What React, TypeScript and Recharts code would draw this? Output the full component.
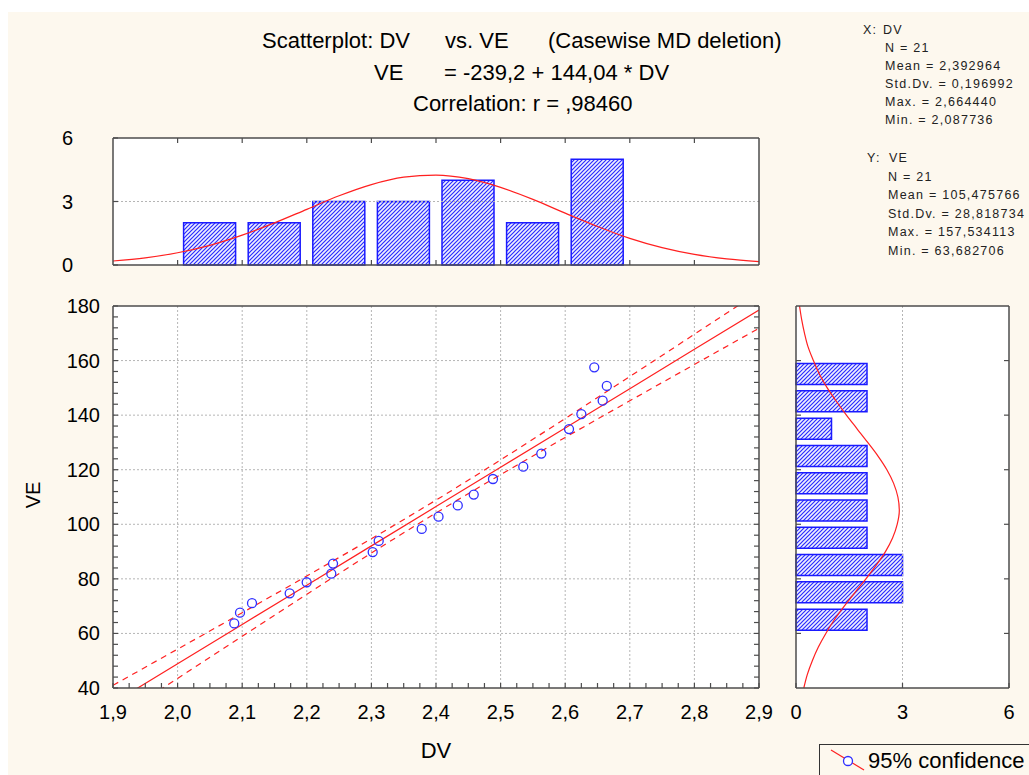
import React from 'react';
import { ComposedChart, Scatter, Line, Bar, XAxis, YAxis, ReferenceLine } from 'recharts';

const dvValues = [2.0877, 2.0966, 2.1152, 2.1735, 2.1998, 2.2379, 2.2406, 2.302, 2.3113, 2.3779, 2.4039,
  2.4337, 2.4584, 2.4882, 2.5351, 2.563, 2.6059, 2.625, 2.645, 2.658, 2.6644];
const veValues = [63.68, 67.6, 71.1, 74.7, 78.75, 81.9, 85.6, 89.8, 93.9, 98.3, 102.8,
  106.9, 110.9, 116.6, 121.1, 125.9, 134.9, 140.4, 157.53, 145.3, 150.7];

// regression VE = -239,2 + 144,04 * DV, and 95% band
const fitIntercept = -239.2;
const fitSlope = 144.04;
const bandX = [1.9, 2.0, 2.1, 2.2, 2.3, 2.4, 2.5, 2.6, 2.7, 2.8, 2.9];
const bandUpper = [40.98, 54.25, 67.58, 81.04, 94.71, 108.86, 123.6, 138.77, 154.16, 169.64, 185.18];
const bandLower = [27.98, 43.51, 58.98, 74.34, 89.47, 104.14, 118.2, 131.83, 145.26, 158.58, 171.86];

// histograms
const dvBins = [2.05, 2.15, 2.25, 2.35, 2.45, 2.55, 2.65];
const dvCounts = [2, 2, 3, 3, 4, 2, 5];
const veBins = [65, 75, 85, 95, 105, 115, 125, 135, 145, 155];
const veCounts = [2, 3, 3, 2, 2, 2, 2, 1, 2, 2];

// normal curves over the histograms
const dvCurveX = [1.9, 1.95, 2.0, 2.05, 2.1, 2.15, 2.2, 2.25, 2.3, 2.35, 2.4, 2.45, 2.5, 2.55, 2.6, 2.65, 2.7, 2.75, 2.8, 2.85, 2.9];
const dvCurveY = [0.19, 0.34, 0.58, 0.93, 1.41, 1.99, 2.63, 3.27, 3.8, 4.15, 4.25, 4.08, 3.67, 3.1, 2.45, 1.82, 1.26, 0.82, 0.5, 0.29, 0.16];
const veCurveY = [40, 45, 50, 55, 60, 65, 70, 75, 80, 85, 90, 95, 100, 105, 110, 115, 120, 125, 130, 135, 140, 145, 150, 155, 160, 165, 170, 175, 180];
const veCurveX = [0.22, 0.32, 0.46, 0.63, 0.84, 1.08, 1.36, 1.66, 1.97, 2.26, 2.52, 2.72, 2.85, 2.91, 2.87, 2.75, 2.56, 2.31, 2.02, 1.72, 1.42, 1.14, 0.88, 0.66, 0.49, 0.34, 0.24, 0.16, 0.1];

// ticks
const xMajor = [2.0, 2.1, 2.2, 2.3, 2.4, 2.5, 2.6, 2.7, 2.8];
const xMinor = Array.from({ length: 41 }, (_, i) => +(1.9 + i * 0.025).toFixed(3));
const yMajor = [60, 80, 100, 120, 140, 160];
const yMinor = Array.from({ length: 36 }, (_, i) => 40 + i * 4);
const countTicks = [0, 3, 6];

const scatterData = dvValues.map((x, i) => ({ x, y: veValues[i] }));
const bandData = bandX.map((x, i) => ({ x, fit: fitIntercept + fitSlope * x, upper: bandUpper[i], lower: bandLower[i] }));
const dvHist = dvBins.map((dv, i) => ({ dv, count: dvCounts[i] }));
const dvCurve = dvCurveX.map((dv, i) => ({ dv, dens: dvCurveY[i] }));
const veHist = veBins.map((ve, i) => ({ ve, count: veCounts[i] }));
const veCurve = veCurveY.map((ve, i) => ({ ve, dens: veCurveX[i] }));

const FONT = '"Liberation Sans", Arial, sans-serif';
const BG = '#fdf8ee';
const FRAME = '#4d4d4d';
const GRID = '#b5b5b5';
const RED = '#ff2020';
const BLUE = '#2f2fff';
const TICK = 5;

const isMajor = (v: number, step: number) => Math.abs(v / step - Math.round(v / step)) < 1e-6;
const comma = (v: number) => v.toFixed(1).replace('.', ',');

function makeTick(side: 'top' | 'bottom' | 'left' | 'right', label?: (v: number) => string | null, gap = 0) {
  return (props: any) => {
    const { x, y, payload } = props;
    const v = payload.value as number;
    const text = label ? label(v) : null;
    let x2 = x, y2 = y, tx = x, ty = y;
    let anchor = 'middle';
    if (side === 'bottom') { y2 = y - TICK; ty = y + gap; }
    if (side === 'top') { y2 = y + TICK; }
    if (side === 'left') { x2 = x + TICK; tx = x - gap; ty = y + 7; anchor = 'end'; }
    if (side === 'right') { x2 = x - TICK; }
    return (
      <g>
        <line x1={x} y1={y} x2={x2} y2={y2} stroke={FRAME} strokeWidth={1.2} />
        {text !== null && (
          <text x={tx} y={ty} textAnchor={anchor} fontSize={20} fontFamily={FONT} fill="#000">{text}</text>
        )}
      </g>
    );
  };
}

const axisLine = { stroke: FRAME, strokeWidth: 1.5 };
const mainBottomTick = makeTick('bottom', (v) => (isMajor(v, 0.1) ? comma(v) : null), 31);
const mainLeftTick = makeTick('left', (v) => (isMajor(v, 20) ? String(v) : null), 13);
const topTick = makeTick('top');
const rightTick = makeTick('right');
const bottomTick = makeTick('bottom');
const leftTick = makeTick('left');
const histLeftTick = makeTick('left', (v) => String(v), 40);
const histBottomTick = makeTick('bottom', (v) => String(v), 31);

const barStyle = { fill: 'url(#hatchBlue)', stroke: '#1a1aff', strokeWidth: 1.5 };

export default function App() {
  return (
    <div style={{ position: 'absolute', left: 8, top: 12, width: 1021, height: 763, background: BG, overflow: 'hidden', fontFamily: FONT }}>
      <svg width={4} height={4} style={{ position: 'absolute', left: 0, top: 0 }}>
        <defs>
          <pattern id="hatchBlue" patternUnits="userSpaceOnUse" width={4} height={4}>
            <rect x={0} y={0} width={4} height={4} fill="#eef0ff" />
            <path d="M-1,1 L1,-1 M0,4 L4,0 M3,5 L5,3" stroke="#2b2bff" strokeWidth={1.2} fill="none" />
          </pattern>
        </defs>
      </svg>

      {/* plot backgrounds */}
      <div style={{ position: 'absolute', left: 105, top: 294, width: 646, height: 382, background: '#fff' }} />
      <div style={{ position: 'absolute', left: 105, top: 126, width: 646, height: 127, background: '#fff' }} />
      <div style={{ position: 'absolute', left: 788, top: 294, width: 213, height: 382, background: '#fff' }} />

      {/* main scatter */}
      <div style={{ position: 'absolute', left: 0, top: 280 }}>
        <ComposedChart width={770} height={480} margin={{ top: 13, right: 18, bottom: 44, left: 45 }}>
          <XAxis type="number" dataKey="x" domain={[1.9, 2.9]} allowDataOverflow ticks={xMinor} interval={0}
            tickSize={0} tickMargin={0} tickLine={false} tick={mainBottomTick} axisLine={axisLine} height={40} />
          <XAxis xAxisId="t" orientation="top" type="number" domain={[1.9, 2.9]} allowDataOverflow ticks={xMinor} interval={0}
            tickSize={0} tickMargin={0} tickLine={false} tick={topTick} axisLine={axisLine} height={1} />
          <YAxis type="number" dataKey="y" domain={[40, 180]} allowDataOverflow ticks={yMinor} interval={0}
            tickSize={0} tickMargin={0} tickLine={false} tick={mainLeftTick} axisLine={axisLine} width={60} />
          <YAxis yAxisId="r" orientation="right" type="number" domain={[40, 180]} allowDataOverflow ticks={yMinor} interval={0}
            tickSize={0} tickMargin={0} tickLine={false} tick={rightTick} axisLine={axisLine} width={1} />
          {xMajor.map((v) => (
            <ReferenceLine key={'gx' + v} x={v} stroke={GRID} strokeDasharray="2 2" />
          ))}
          {yMajor.map((v) => (
            <ReferenceLine key={'gy' + v} y={v} stroke={GRID} strokeDasharray="2 2" />
          ))}
          <Line data={bandData} dataKey="upper" type="monotone" stroke={RED} strokeWidth={1.2} strokeDasharray="6 5" dot={false} isAnimationActive={false} />
          <Line data={bandData} dataKey="lower" type="monotone" stroke={RED} strokeWidth={1.2} strokeDasharray="6 5" dot={false} isAnimationActive={false} />
          <Line data={bandData} dataKey="fit" type="linear" stroke={RED} strokeWidth={1.2} dot={false} isAnimationActive={false} />
          <Scatter data={scatterData} isAnimationActive={false}
            shape={(p: any) => <circle cx={p.cx} cy={p.cy} r={4.5} fill="none" stroke={BLUE} strokeWidth={1.3} />} />
        </ComposedChart>
      </div>

      {/* DV histogram */}
      <div style={{ position: 'absolute', left: 0, top: 110 }}>
        <ComposedChart width={770} height={160} data={dvHist} margin={{ top: 15, right: 18, bottom: 16, left: 45 }}>
          <XAxis type="number" dataKey="dv" domain={[1.9, 2.9]} ticks={xMajor} interval={0}
            tickSize={0} tickMargin={0} tickLine={false} tick={bottomTick} axisLine={axisLine} height={1} />
          <XAxis xAxisId="t" orientation="top" type="number" dataKey="dv" domain={[1.9, 2.9]} ticks={xMajor} interval={0}
            tickSize={0} tickMargin={0} tickLine={false} tick={topTick} axisLine={axisLine} height={1} />
          <YAxis type="number" domain={[0, 6]} ticks={countTicks} interval={0}
            tickSize={0} tickMargin={0} tickLine={false} tick={histLeftTick} axisLine={axisLine} width={60} />
          <YAxis yAxisId="r" orientation="right" type="number" domain={[0, 6]} ticks={countTicks} interval={0}
            tickSize={0} tickMargin={0} tickLine={false} tick={rightTick} axisLine={axisLine} width={1} />
          <ReferenceLine y={3} stroke={GRID} strokeDasharray="2 2" />
          <Bar dataKey="count" barSize={52} {...barStyle} isAnimationActive={false} />
          <Line data={dvCurve} xAxisId="t" dataKey="dens" type="monotone" stroke={RED} strokeWidth={1.2} dot={false} isAnimationActive={false} />
        </ComposedChart>
      </div>

      {/* VE histogram */}
      <div style={{ position: 'absolute', left: 740, top: 280 }}>
        <ComposedChart layout="vertical" width={281} height={480} data={veHist} margin={{ top: 13, right: 19, bottom: 44, left: 47 }}>
          <XAxis type="number" domain={[0, 6]} ticks={countTicks} interval={0}
            tickSize={0} tickMargin={0} tickLine={false} tick={histBottomTick} axisLine={axisLine} height={40} />
          <XAxis xAxisId="t" orientation="top" type="number" domain={[0, 6]} ticks={[3]} interval={0}
            tickSize={0} tickMargin={0} tickLine={false} tick={topTick} axisLine={axisLine} height={1} />
          <YAxis type="number" dataKey="ve" domain={[40, 180]} reversed ticks={yMajor} interval={0}
            tickSize={0} tickMargin={0} tickLine={false} tick={leftTick} axisLine={axisLine} width={1} />
          <YAxis yAxisId="r" orientation="right" type="number" dataKey="ve" domain={[40, 180]} reversed ticks={yMajor} interval={0}
            tickSize={0} tickMargin={0} tickLine={false} tick={rightTick} axisLine={axisLine} width={1} />
          <ReferenceLine x={3} stroke={GRID} strokeDasharray="2 2" />
          <Bar dataKey="count" barSize={21} {...barStyle} isAnimationActive={false} />
          <Line data={veCurve} yAxisId="r" dataKey="dens" type="monotone" stroke={RED} strokeWidth={1.2} dot={false} isAnimationActive={false} />
        </ComposedChart>
      </div>

      {/* titles, stats, legend */}
      <svg width={1021} height={763} style={{ position: 'absolute', left: 0, top: 0, pointerEvents: 'none' }} fontFamily={FONT}>
        <g fontSize={22} fill="#000">
          <text x={254} y={36}>Scatterplot: DV</text>
          <text x={437} y={36}>vs. VE</text>
          <text x={540} y={36}>(Casewise MD deletion)</text>
          <text x={366} y={68}>VE</text>
          <text x={436} y={68}>= -239,2 + 144,04 * DV</text>
          <text x={405} y={99}>Correlation: r = ,98460</text>
          <text x={428} y={746} textAnchor="middle">DV</text>
        </g>
        <text x={32} y={483} fontSize={20} textAnchor="middle" transform="rotate(-90 32 483)" fill="#000">VE</text>
        <g fontSize={12.5} fill="#222" letterSpacing={1.25}>
          <text x={855} y={22}>X:</text>
          <text x={875} y={22}>DV</text>
          <text x={877} y={40}>N = 21</text>
          <text x={877} y={58}>Mean = 2,392964</text>
          <text x={877} y={76}>Std.Dv. = 0,196992</text>
          <text x={877} y={94}>Max. = 2,664440</text>
          <text x={877} y={112}>Min. = 2,087736</text>
          <text x={859} y={150}>Y:</text>
          <text x={881} y={150}>VE</text>
          <text x={880} y={168.5}>N = 21</text>
          <text x={880} y={187}>Mean = 105,475766</text>
          <text x={880} y={205.5}>Std.Dv. = 28,818734</text>
          <text x={880} y={224}>Max. = 157,534113</text>
          <text x={880} y={242.5}>Min. = 63,682706</text>
        </g>
        <rect x={811.5} y={732.5} width={230} height={40} fill={BG} stroke="#333" strokeWidth={1} />
        <line x1={823} y1={738} x2={856} y2={758} stroke={RED} strokeWidth={1.2} />
        <circle cx={840} cy={749} r={4.5} fill="#fff" stroke={BLUE} strokeWidth={1.3} />
        <text x={860} y={756} fontSize={22} fill="#000">95% confidence</text>
      </svg>
    </div>
  );
}
